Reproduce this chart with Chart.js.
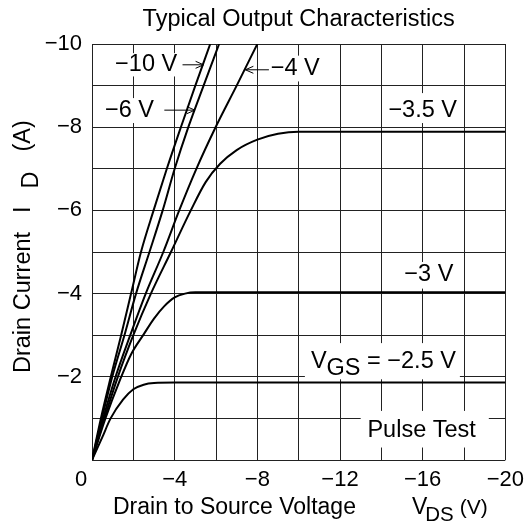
<!DOCTYPE html>
<html>
<head>
<meta charset="utf-8">
<script src="https://cdn.jsdelivr.net/npm/chart.js@4.4.0/dist/chart.umd.min.js"></script>
<style>
  html, body { margin: 0; padding: 0; background: #fff; }
  #wrap { width: 531px; height: 525px; position: relative; }
</style>
</head>
<body>
<div id="wrap"><canvas id="chart" width="531" height="525"></canvas></div>
<script>
// --- data (VDS in V, ID in A) ---
const vgsLabels = ['−10 V', '−6 V', '−4 V', '−3.5 V', '−3 V', '−2.5 V'];

const vdsG10 = [0, -0.43, -0.91, -1.41, -1.89, -2.37, -2.98, -3.62, -4.30, -5.00, -5.72];
const idG10  = [0, -1, -2, -3, -4, -5, -6, -7, -8, -9, -10];

const vdsG6 = [0, -0.48, -0.98, -1.57, -2.13, -2.78, -3.42, -4.00, -4.66, -5.40, -6.15];
const idG6  = [0, -1, -2, -3, -4, -5, -6, -7, -8, -9, -10];

const vdsG4 = [0, -0.54, -1.14, -1.85, -2.60, -3.45, -4.22, -5.05, -5.98, -7.00, -8.00];
const idG4  = [0, -1, -2, -3, -4, -5, -6, -7, -8, -9, -10];

const vdsG35 = [0, -0.60, -1.25, -2.00, -2.85, -3.82, -4.78, -5.50, -6.20, -7.00, -8.00, -9.00, -10.0, -20.0];
const idG35  = [0, -1, -2, -3, -4, -5, -6, -6.68, -7.12, -7.45, -7.70, -7.84, -7.89, -7.89];

const vdsG3 = [0, -0.65, -1.35, -1.90, -2.50, -3.00, -3.50, -4.00, -4.50, -5.00, -6.00, -20.0];
const idG3  = [0, -1.00, -1.92, -2.55, -3.02, -3.40, -3.70, -3.91, -4.00, -4.03, -4.03, -4.03];

const vdsG25 = [0, -0.50, -0.90, -1.50, -2.00, -2.50, -3.00, -4.00, -20.0];
const idG25  = [0, -0.55, -1.00, -1.45, -1.70, -1.81, -1.85, -1.86, -1.86];

const xGridValues = [0, -2, -4, -6, -8, -10, -12, -14, -16, -18, -20];
const xTickLabels = ['0\u2002\u2002', '', '−4', '', '−8', '', '−12', '', '−16', '', '−20'];
const yGridValues = [0, -1, -2, -3, -4, -5, -6, -7, -8, -9, -10];
const yTickLabels = ['', '', '−2', '', '−4', '', '−6', '', '−8', '', '−10'];

const FONT = '"Liberation Sans", Arial, sans-serif';
const TEXT_SIZE = 23.5;

function toPoints(xs, ys) {
    return xs.map((x, i) => ({ x: x, y: ys[i] }));
}

const curves = [
    toPoints(vdsG10, idG10),
    toPoints(vdsG6, idG6),
    toPoints(vdsG4, idG4),
    toPoints(vdsG35, idG35),
    toPoints(vdsG3, idG3),
    toPoints(vdsG25, idG25)
];

// annotation boxes / texts, in data units (V, A)
const notes = [
    { parts: [{ t: vgsLabels[0] }], x: -2.62, y: -9.5, box: [-0.95, -9.78, -4.25, -9.22] },
    { parts: [{ t: vgsLabels[1] }], x: -1.81, y: -8.41, box: [-0.5, -8.7, -3.2, -8.1] },
    { parts: [{ t: vgsLabels[2] }], x: -9.83, y: -9.42, box: [-8.4, -9.72, -11.2, -9.1] },
    { parts: [{ t: vgsLabels[3] }], x: -16.0, y: -8.41, box: [-14.2, -8.82, -17.8, -8.1] },
    { parts: [{ t: vgsLabels[4] }], x: -16.3, y: -4.45, box: [-14.9, -4.76, -17.7, -4.12] },
    { parts: [{ t: 'V' }, { t: 'GS', sub: true }, { t: ' = ' + vgsLabels[5] }], x: -14.1, y: -2.36, box: [-10.3, -2.81, -17.8, -1.94] },
    { parts: [{ t: 'Pulse Test' }], x: -15.95, y: -0.72, box: [-13.0, -1.18, -19.2, -0.3] }
];

const arrows = [
    { from: [-4.38, -9.5], to: [-5.40, -9.5] },
    { from: [-3.50, -8.41], to: [-4.98, -8.41] },
    { from: [-8.56, -9.38], to: [-7.42, -9.38] }
];

// draws a string made of normal + subscript parts; centred on x unless left=true
function drawRich(ctx, parts, x, y, size, left) {
    const fontOf = p => (p.size || size) + 'px ' + FONT;
    let total = 0;
    parts.forEach(p => {
        ctx.font = fontOf(p);
        total += ctx.measureText(p.t).width + (p.dx || 0);
    });
    let cx = left ? x : x - total / 2;
    ctx.textAlign = 'left';
    ctx.textBaseline = 'middle';
    parts.forEach(p => {
        ctx.font = fontOf(p);
        cx += p.dx || 0;
        ctx.fillText(p.t, cx, p.sub ? y + size * 0.3 : y);
        cx += ctx.measureText(p.t).width;
    });
}

const decorPlugin = {
    id: 'decor',
    beforeDatasetsDraw(chart) {
        const ctx = chart.ctx;
        const xs = chart.scales.x, ys = chart.scales.y;
        ctx.save();
        ctx.fillStyle = '#fff';
        notes.forEach(n => {
            const x1 = xs.getPixelForValue(n.box[0]), y1 = ys.getPixelForValue(n.box[1]);
            const x2 = xs.getPixelForValue(n.box[2]), y2 = ys.getPixelForValue(n.box[3]);
            ctx.fillRect(Math.min(x1, x2), Math.min(y1, y2), Math.abs(x2 - x1), Math.abs(y2 - y1));
        });
        ctx.fillStyle = '#000';
        notes.forEach(n => {
            drawRich(ctx, n.parts, xs.getPixelForValue(n.x), ys.getPixelForValue(n.y), TEXT_SIZE);
        });
        // arrows
        ctx.strokeStyle = '#000';
        ctx.lineWidth = 1;
        arrows.forEach(a => {
            const fx = xs.getPixelForValue(a.from[0]), fy = ys.getPixelForValue(a.from[1]);
            const tx = xs.getPixelForValue(a.to[0]), ty = ys.getPixelForValue(a.to[1]);
            const dir = Math.sign(tx - fx);
            ctx.beginPath();
            ctx.moveTo(fx, fy);
            ctx.lineTo(tx, ty);
            ctx.moveTo(tx - dir * 8, ty - 3.5);
            ctx.lineTo(tx, ty);
            ctx.lineTo(tx - dir * 8, ty + 3.5);
            ctx.stroke();
        });
        ctx.restore();
    },
    afterDraw(chart) {
        const ctx = chart.ctx;
        const area = chart.chartArea;
        ctx.save();
        ctx.fillStyle = '#000';
        // title
        drawRich(ctx, [{ t: 'Typical Output Characteristics' }], (area.left + area.right) / 2, 20, TEXT_SIZE);
        // x title
        drawRich(ctx, [
            { t: 'Drain to Source Voltage' },
            { t: 'V', dx: 56 },
            { t: 'DS', sub: true, size: 20.5, dx: -2 },
            { t: '(V)', size: 21, dx: 6 }
        ], 113, 508, 23, true);
        // y title
        ctx.translate(24, 373);
        ctx.rotate(-Math.PI / 2);
        drawRich(ctx, [
            { t: 'Drain Current' },
            { t: 'I', dx: 19 },
            { t: 'D', sub: true, dx: 18 },
            { t: '(A)', dx: 20 }
        ], 0, 0, TEXT_SIZE, true);
        ctx.restore();
    }
};

const ctx = document.getElementById('chart').getContext('2d');
new Chart(ctx, {
    type: 'scatter',
    data: {
        datasets: curves.map((pts, i) => ({
            label: vgsLabels[i],
            data: pts,
            showLine: true,
            borderColor: '#000',
            borderWidth: 2,
            pointRadius: 0,
            cubicInterpolationMode: 'monotone',
            fill: false
        }))
    },
    options: {
        responsive: false,
        animation: false,
        devicePixelRatio: 1,
        layout: { padding: { left: 0, right: 23, top: 44, bottom: 0 } },
        plugins: {
            legend: { display: false },
            tooltip: { enabled: false },
            title: { display: false }
        },
        scales: {
            x: {
                type: 'linear',
                min: -20, max: 0,
                reverse: true,
                afterBuildTicks: s => { s.ticks = xGridValues.map(v => ({ value: v })); },
                afterFit: s => { s.height = 65; },
                ticks: {
                    autoSkip: false,
                    maxRotation: 0,
                    padding: 7,
                    color: '#000',
                    font: { family: FONT, size: 22 },
                    callback: v => xTickLabels[xGridValues.indexOf(v)]
                },
                grid: { color: '#222', lineWidth: 1, drawTicks: false },
                border: { display: false }
            },
            y: {
                type: 'linear',
                min: -10, max: 0,
                reverse: true,
                afterBuildTicks: s => { s.ticks = yGridValues.map(v => ({ value: v })); },
                afterFit: s => { s.width = 92; },
                ticks: {
                    autoSkip: false,
                    padding: 10,
                    color: '#000',
                    font: { family: FONT, size: 22 },
                    callback: v => yTickLabels[yGridValues.indexOf(v)]
                },
                grid: { color: '#222', lineWidth: 1, drawTicks: false },
                border: { display: false }
            }
        }
    },
    plugins: [decorPlugin]
});
</script>
</body>
</html>
